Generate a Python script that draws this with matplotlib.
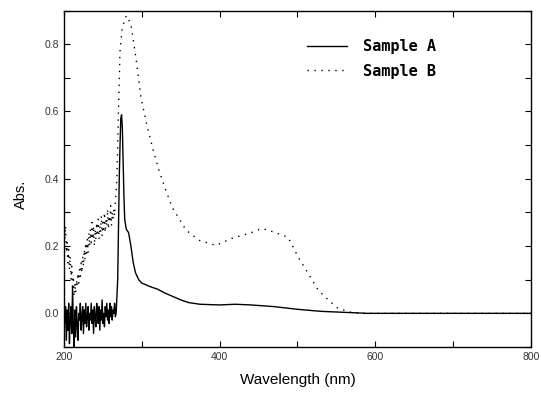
import numpy as np
import matplotlib.pyplot as plt
from matplotlib.ticker import MultipleLocator

# Sample A: noisy baseline 200-266 nm (1 nm steps), then the band
a_noise = [0.09, -0.03, 0.02, -0.08, 0.01, -0.05, 0.03, -0.09, -0.02, 0.02,
           -0.06, 0.08, -0.04, -0.10, 0.01, -0.07, 0.02, -0.03, -0.08, 0.00,
           -0.02, 0.03, -0.05, -0.01, 0.02, -0.06, 0.01, -0.03, 0.03, -0.04,
           -0.01, 0.02, -0.05, 0.00, -0.02, 0.03, -0.03, 0.01, -0.06, 0.02,
           -0.01, -0.04, 0.03, 0.00, -0.03, 0.02, -0.05, 0.01, -0.02, 0.04,
           -0.03, 0.00, -0.04, 0.02, -0.01, 0.03, -0.02, 0.01, -0.03, 0.03,
           -0.01, 0.02, -0.02, 0.01, 0.00, 0.03, -0.01]
a_wl_tail = [267, 269, 270, 271, 272, 273, 274, 275, 276, 277, 278, 280, 283,
             286, 289, 292, 296, 300, 310, 320, 330, 340, 350, 360, 375, 400,
             420, 440, 470, 500, 530, 560, 590, 800]
a_tail = [0.00, 0.10, 0.25, 0.40, 0.50, 0.58, 0.59, 0.55, 0.45, 0.35, 0.28,
          0.25, 0.24, 0.20, 0.15, 0.12, 0.10, 0.09, 0.08, 0.072, 0.06, 0.05,
          0.04, 0.032, 0.027, 0.025, 0.027, 0.025, 0.02, 0.012, 0.006, 0.003,
          0.0, 0.0]

# Sample B: noisy region 200-266 nm (1 nm steps), then the band
b_noise = [0.30, 0.22, 0.26, 0.18, 0.21, 0.15, 0.19, 0.13, 0.17, 0.10,
           0.14, 0.07, 0.11, 0.05, 0.09, 0.06, 0.10, 0.08, 0.12, 0.09,
           0.13, 0.11, 0.15, 0.12, 0.17, 0.14, 0.19, 0.16, 0.21, 0.17,
           0.22, 0.18, 0.24, 0.20, 0.25, 0.21, 0.27, 0.22, 0.26, 0.20,
           0.25, 0.22, 0.27, 0.23, 0.28, 0.22, 0.26, 0.24, 0.29, 0.23,
           0.27, 0.25, 0.30, 0.24, 0.28, 0.26, 0.31, 0.25, 0.29, 0.27,
           0.32, 0.26, 0.30, 0.28, 0.31, 0.29, 0.33]
b_wl_tail = [268, 270, 272, 275, 280, 286, 293, 299, 306, 314, 322, 331, 339,
             357, 374, 395, 416, 441, 454, 463, 488, 501, 514, 527, 540, 552,
             569, 585, 800]
b_tail = [0.40, 0.60, 0.78, 0.85, 0.885, 0.86, 0.75, 0.64, 0.565, 0.49, 0.425,
          0.365, 0.315, 0.247, 0.217, 0.202, 0.223, 0.24, 0.252, 0.247, 0.226,
          0.167, 0.118, 0.068, 0.039, 0.015, 0.003, 0.0, 0.0]

wl_noise = np.arange(200, 267)
a_wl = np.concatenate([wl_noise, a_wl_tail])
a_abs = np.concatenate([a_noise, a_tail])
b_wl = np.concatenate([wl_noise, b_wl_tail])
b_abs = np.concatenate([b_noise, b_tail])

fig = plt.figure(figsize=(5.41, 3.94), dpi=100)
ax = fig.add_axes([0.1183, 0.1193, 0.863, 0.854])

ax.plot(a_wl, a_abs, color='black', lw=1.0, label='Sample A')
ax.plot(b_wl, b_abs, color='black', lw=1.0, linestyle=(0, (1, 4)), label='Sample B')

ax.set_xlim(200, 800)
ax.set_ylim(-0.1, 0.9)
ax.xaxis.set_major_locator(MultipleLocator(200))
ax.xaxis.set_minor_locator(MultipleLocator(100))
ax.yaxis.set_major_locator(MultipleLocator(0.2))
ax.yaxis.set_minor_locator(MultipleLocator(0.1))
ax.set_yticks([0.0, 0.2, 0.4, 0.6, 0.8])
ax.tick_params(which='both', direction='in', top=True, right=True,
               length=4, width=0.8, labelsize=7.5, labelcolor='#333333')
for lab in ax.get_xticklabels() + ax.get_yticklabels():
    lab.set_family('Liberation Sans')
for s in ax.spines.values():
    s.set_linewidth(1.0)

ax.set_xlabel('Wavelength (nm)', fontsize=11, family='Liberation Sans', labelpad=8)
ax.set_ylabel('Abs.', fontsize=10.5, family='Liberation Sans')
ax.yaxis.set_label_coords(-0.077, 0.455)

leg = ax.legend(loc='upper right', bbox_to_anchor=(0.827, 0.955), frameon=False,
                handlelength=2.6, handletextpad=1.1, labelspacing=0.6,
                prop={'family': 'DejaVu Sans Mono', 'weight': 'bold', 'size': 11})

fig.savefig('out.png', dpi=100)
